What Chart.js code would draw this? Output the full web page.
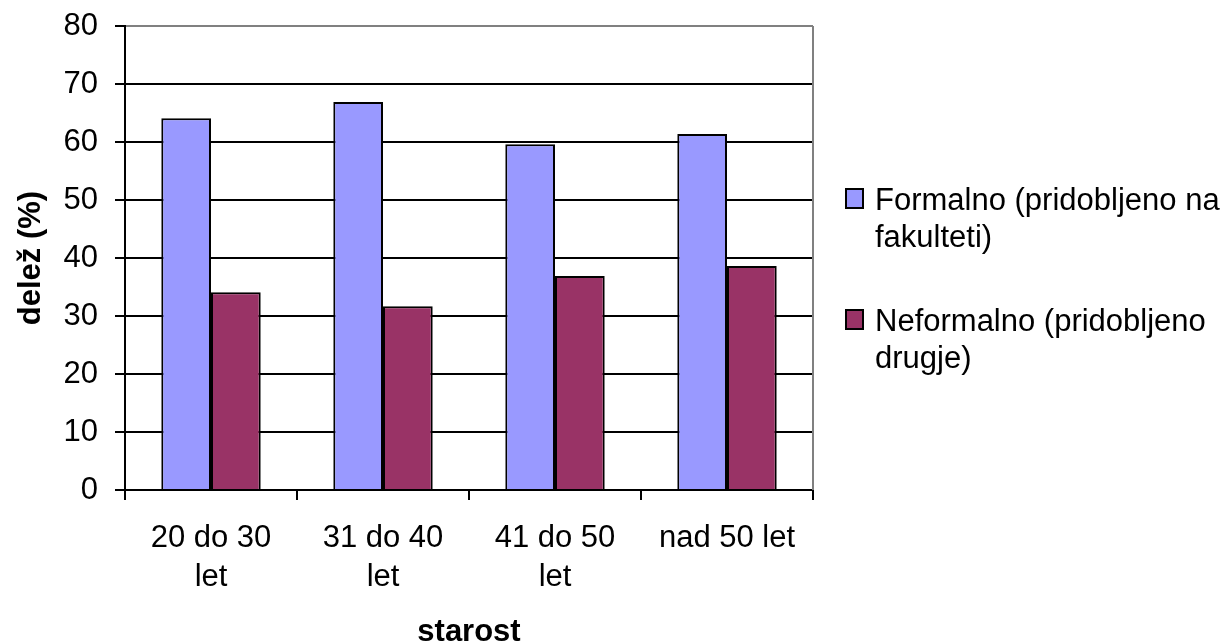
<!DOCTYPE html>
<html>
<head>
<meta charset="utf-8">
<title>Delež po starosti</title>
<script src="https://cdn.jsdelivr.net/npm/chart.js@4/dist/chart.umd.min.js"></script>
<style>
  html, body { margin: 0; padding: 0; background: #fff; }
  #wrap { width: 1220px; height: 643px; position: relative; }
</style>
</head>
<body>
<div id="wrap"><canvas id="c" width="1220" height="643"></canvas></div>
<script>
// Age groups (two-line labels) and the share of each kind of knowledge, in %
const categories = [['20 do 30', 'let'], ['31 do 40', 'let'], ['41 do 50', 'let'], ['nad 50 let']];
const formalno = [64.1, 66.9, 59.6, 61.4];
const neformalno = [34.1, 31.7, 36.9, 38.6];
const seriesNames = [
  ['Formalno (pridobljeno na', 'fakulteti)'],
  ['Neformalno (pridobljeno', 'drugje)']
];
const seriesColors = ['#9999FF', '#993366'];
const yTicks = [0, 10, 20, 30, 40, 50, 60, 70, 80];

const FONT = '"Liberation Sans", Arial, sans-serif';

// Right-hand legend with wrapped labels, plus the grey frame on the right side
const sideLegend = {
  id: 'sideLegend',
  afterDraw(chart) {
    const ctx = chart.ctx;
    const area = chart.chartArea;
    ctx.save();
    // grey right edge of the plot frame
    ctx.strokeStyle = '#808080';
    ctx.lineWidth = 2;
    ctx.beginPath();
    ctx.moveTo(Math.round(area.right), area.top);
    ctx.lineTo(Math.round(area.right), area.bottom);
    ctx.stroke();

    ctx.font = '31px ' + FONT;
    ctx.textAlign = 'left';
    ctx.textBaseline = 'alphabetic';
    const boxX = Math.round(area.right) + 33;
    const textX = Math.round(area.right) + 62;
    const lineGap = 37;
    let baseline = 210;
    chart.data.datasets.forEach((ds, i) => {
      ctx.fillStyle = ds.backgroundColor;
      ctx.fillRect(boxX, baseline - 21, 17, 19);
      ctx.strokeStyle = '#000';
      ctx.lineWidth = 2;
      ctx.strokeRect(boxX, baseline - 21, 17, 19);
      ctx.fillStyle = '#000';
      seriesNames[i].forEach((line, j) => {
        ctx.fillText(line, textX, baseline + j * lineGap);
      });
      baseline += seriesNames[i].length * lineGap + 47;
    });
    ctx.restore();
  }
};

new Chart(document.getElementById('c'), {
  type: 'bar',
  data: {
    labels: categories,
    datasets: [
      { label: seriesNames[0].join(' '), data: formalno, backgroundColor: seriesColors[0] },
      { label: seriesNames[1].join(' '), data: neformalno, backgroundColor: seriesColors[1] }
    ]
  },
  options: {
    responsive: false,
    animation: false,
    devicePixelRatio: 1,
    layout: { padding: { top: 26, right: 407, bottom: 0, left: 0 } },
    datasets: {
      bar: {
        borderColor: '#000',
        borderWidth: 2,
        categoryPercentage: 0.578,
        barPercentage: 1.0
      }
    },
    plugins: {
      legend: { display: false },
      tooltip: { enabled: false }
    },
    scales: {
      x: {
        offset: true,
        grid: {
          offset: true,
          drawOnChartArea: false,
          drawTicks: true,
          tickLength: 10,
          color: '#000',
          lineWidth: 2
        },
        border: { display: true, color: '#000', width: 2 },
        ticks: {
          color: '#000',
          padding: 19,
          maxRotation: 0,
          autoSkip: false,
          font: { family: FONT, size: 31, lineHeight: 1.25 }
        },
        title: {
          display: true,
          text: 'starost',
          color: '#000',
          padding: 0,
          font: { family: FONT, size: 31, weight: 'bold', lineHeight: 0.7 }
        },
        afterFit(scale) {
          scale.height = 153;
          scale.paddingLeft = 0;
          scale.paddingRight = 0;
        }
      },
      y: {
        min: 0,
        max: 80,
        afterBuildTicks(scale) { scale.ticks = yTicks.map(v => ({ value: v })); },
        grid: {
          color: ctx => (ctx.tick && ctx.tick.value === 80 ? '#808080' : '#000'),
          tickColor: '#000',
          lineWidth: 2,
          drawTicks: true,
          tickLength: 10
        },
        border: { display: true, color: '#000', width: 2 },
        ticks: {
          color: '#000',
          padding: 17,
          font: { family: FONT, size: 31 }
        },
        title: {
          display: true,
          text: 'delež (%)',
          color: '#000',
          padding: { top: 13, bottom: 0 },
          font: { family: FONT, size: 31, weight: 'bold' }
        },
        afterFit(scale) {
          scale.width = 125;
          scale.paddingTop = 0;
          scale.paddingBottom = 0;
        }
      }
    }
  },
  plugins: [sideLegend]
});
</script>
</body>
</html>
